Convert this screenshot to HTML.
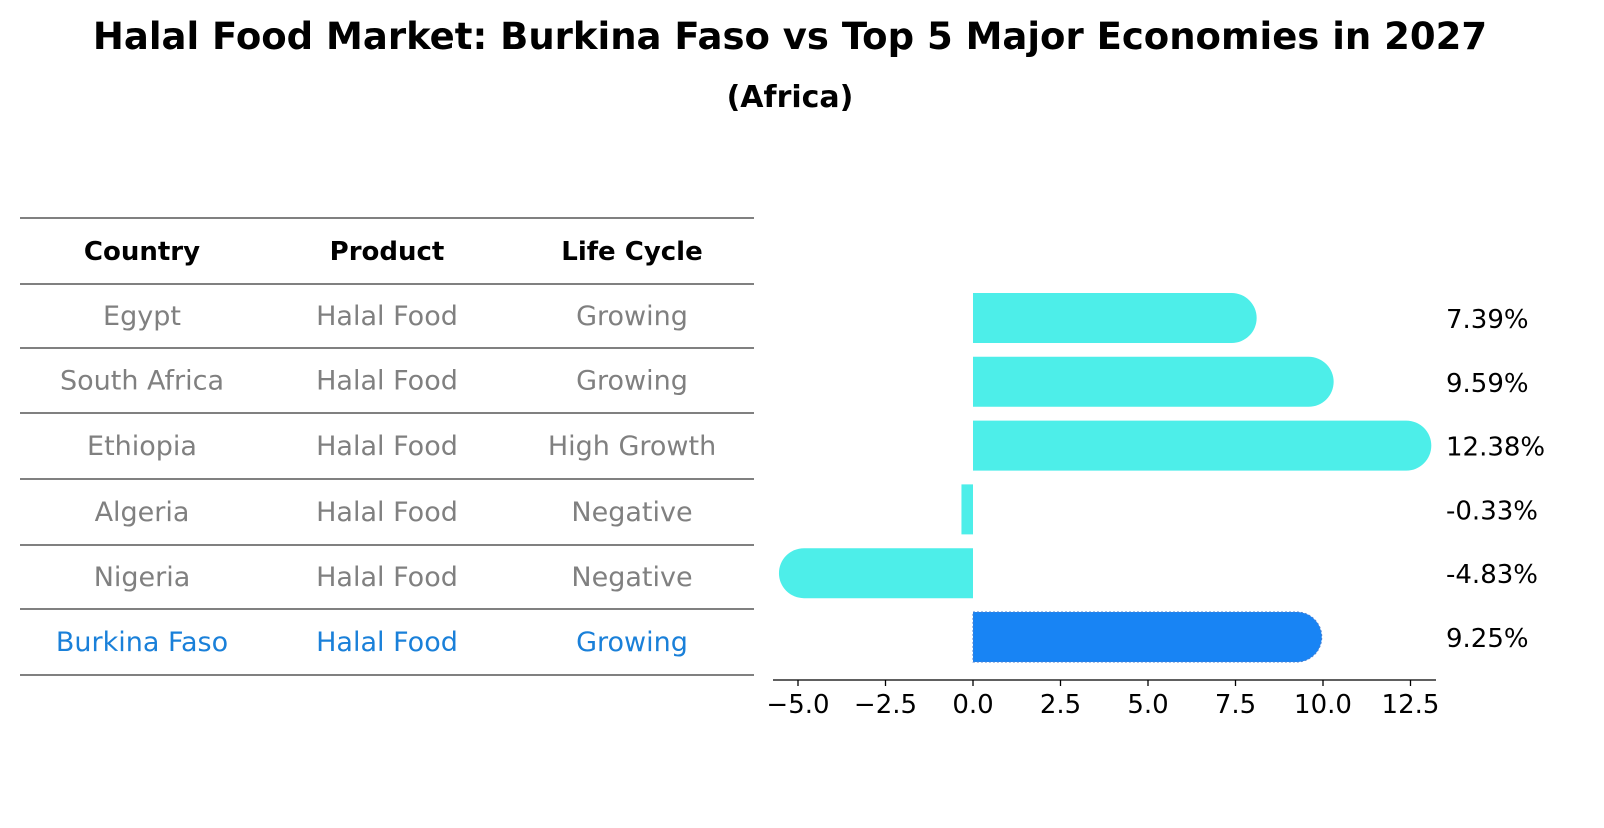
<!DOCTYPE html>
<html><head><meta charset="utf-8"><style>
body{margin:0;background:#fff;font-family:"Liberation Sans","DejaVu Sans",sans-serif;}
</style></head><body>
<svg width="1604" height="823" xmlns="http://www.w3.org/2000/svg" font-family="DejaVu Sans, Liberation Sans, sans-serif">
<rect width="1604" height="823" fill="#fff"/>
<text x="790" y="49" text-anchor="middle" font-size="37" font-weight="bold">Halal Food Market: Burkina Faso vs Top 5 Major Economies in 2027</text>
<text x="790" y="107" text-anchor="middle" font-size="30" font-weight="bold">(Africa)</text>
<g id="table"></g>
<g id="bars"></g>
</svg>
<script>
const countries=["Egypt","South Africa","Ethiopia","Algeria","Nigeria","Burkina Faso"];
const products=["Halal Food","Halal Food","Halal Food","Halal Food","Halal Food","Halal Food"];
const lifeCycles=["Growing","Growing","High Growth","Negative","Negative","Growing"];
const values=[7.39,9.59,12.38,-0.33,-4.83,9.25];
const ticks=[-5.0,-2.5,0.0,2.5,5.0,7.5,10.0,12.5];
const NS="http://www.w3.org/2000/svg";
function mk(t,a,p,txt){const e=document.createElementNS(NS,t);for(const k in a)e.setAttribute(k,a[k]);if(txt!==undefined)e.textContent=txt;p.appendChild(e);return e;}
const tbl=document.getElementById('table');
const lineYs=[218,284,348,413,479,545,609,675];
lineYs.forEach((y,i)=>{const l=mk('line',{x1:20,x2:754,y1:y,y2:y,stroke:'#000','stroke-width':1},tbl);

});
const colX=[142,387,632];
["Country","Product","Life Cycle"].forEach((h,i)=>{const t=mk('text',{x:colX[i],y:260,'text-anchor':'middle','font-size':26,'font-weight':'bold'},tbl,h);

});
countries.forEach((c,r)=>{const y=(lineYs[r+1]+lineYs[r+2])/2+9;const col=r===countries.length-1?'#1a80d9':'#808080';
[c,products[r],lifeCycles[r]].forEach((v,i)=>{const t=mk('text',{x:colX[i],y:y,'text-anchor':'middle','font-size':27,fill:col},tbl,v);

});});
const g=document.getElementById('bars');
const x0=973,ppu=35;const X=v=>x0+v*ppu;
const Y=i=>318+i*63.8;const h=50,rad=25;
values.forEach((v,i)=>{const last=i===values.length-1;const fill=last?'#1884f4':'#4deee9';
const a=X(0),b=X(v);const cy=Y(i);
let d;
if(Math.abs(v)>1){const s=v>0?1:-1;const e=b;
d=`M${a},${cy-h/2} L${e},${cy-h/2} A${rad},${rad} 0 0 ${s>0?1:0} ${e},${cy+h/2} L${a},${cy+h/2} Z`;}
else{d=`M${a},${cy-h/2} L${b},${cy-h/2} L${b},${cy+h/2} L${a},${cy+h/2} Z`;}
const p=mk('path',{d:d,fill:fill},g);
if(last){p.setAttribute('stroke','#4a7fd0');p.setAttribute('stroke-dasharray','2,2');p.setAttribute('stroke-width','1');}


const t=mk('text',{x:1446,y:cy+10,'font-size':26},g,v.toFixed(2)+'%');

});
const ax=mk('line',{x1:773,x2:1436,y1:680,y2:680,stroke:'#000','stroke-width':1.3},g);


ticks.forEach(v=>{const tk=mk('line',{x1:X(v),x2:X(v),y1:680,y2:686,stroke:'#000','stroke-width':1.3},g);


const t=mk('text',{x:X(v),y:713,'text-anchor':'middle','font-size':26},g,(v<0?'\u2212':'')+Math.abs(v).toFixed(1));

});
</script>
</body></html>
